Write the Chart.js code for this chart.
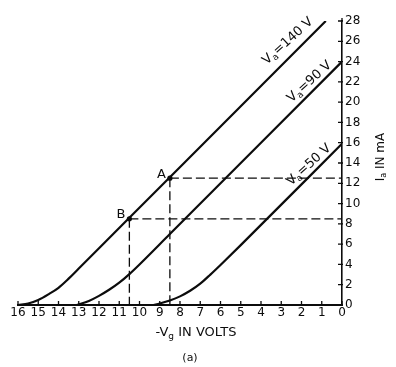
<!DOCTYPE html>
<html lang="en">
<head>
    <title>Triode mutual characteristics</title>
    <meta http-equiv="Content-Type" content="text/html; charset=utf-8" />
    <script src="https://cdn.jsdelivr.net/npm/chart.js@4.4.1/dist/chart.umd.min.js"></script>
    <style>
        html, body { margin: 0; padding: 0; background: #ffffff; }
        #chartCanvas { display: block; }
    </style>
    <script type="text/javascript">

        // -Vg (volts) and Ia (mA)
        const vg140 = [16, 15.5, 15, 14.5, 14, 13.5, 13, 12, 10.5, 8.5, 5, 0.8];
        const ia140 = [0, 0.15, 0.5, 1.05, 1.7, 2.6, 3.6, 5.6, 8.6, 12.6, 19.6, 28];

        const vg90 = [13.1, 12.5, 12, 11.5, 11, 10.5, 10, 8.5, 4, 0];
        const ia90 = [0, 0.4, 0.9, 1.5, 2.2, 3.05, 4, 7, 16, 24];

        const vg50 = [9.3, 9, 8.5, 8, 7.5, 7, 6.5, 6, 5, 0];
        const ia50 = [0, 0.15, 0.45, 0.85, 1.4, 2.1, 3.0, 3.95, 5.9, 15.9];

        // working points A and B
        const pointNames = ['A', 'B'];
        const pointVg = [8.5, 10.5];
        const pointIa = [12.5, 8.5];

        // axis ticks
        const xTicks = [16, 15, 14, 13, 12, 11, 10, 9, 8, 7, 6, 5, 4, 3, 2, 1, 0];
        const yTicks = [0, 2, 4, 6, 8, 10, 12, 14, 16, 18, 20, 22, 24, 26, 28];

        // curve names: Va value, and where the text sits (in data units)
        const curveVa = ['140', '90', '50'];
        const curveLabelVg = [2.67, 1.6, 1.63];
        const curveLabelIa = [26, 22, 13.8];

        const ink = '#0c0c0c';
        const fontFamily = '"DejaVu Sans", sans-serif';

        function zip(xs, ys) {
            return xs.map((x, i) => ({ x: x, y: ys[i] }));
        }

        function curveDataset(xs, ys) {
            return {
                data: zip(xs, ys),
                borderColor: ink,
                borderWidth: 2.2,
                pointRadius: 0,
                cubicInterpolationMode: 'monotone',
                fill: false
            };
        }

        function dashedDataset(points) {
            return {
                data: points,
                borderColor: ink,
                borderWidth: 1.3,
                borderDash: [9, 4],
                pointRadius: 0,
                fill: false
            };
        }

        /**
         * inward tick marks, text labels and subscripted titles
         */
        const decorPlugin = {
            id: 'decor',
            afterDraw(chart) {
                const ctx = chart.ctx;
                const xs = chart.scales.x;
                const ys = chart.scales.y;
                const area = chart.chartArea;
                ctx.save();
                ctx.strokeStyle = ink;
                ctx.fillStyle = ink;
                ctx.lineWidth = 1.3;

                // ticks pointing into the plot
                ctx.beginPath();
                xTicks.forEach(v => {
                    const px = xs.getPixelForValue(v);
                    ctx.moveTo(px, area.bottom);
                    ctx.lineTo(px, area.bottom - 4);
                });
                yTicks.forEach(v => {
                    const py = ys.getPixelForValue(v);
                    ctx.moveTo(area.right + 1, py);
                    ctx.lineTo(area.right - 4, py);
                });
                // axis runs a little past 28
                ctx.moveTo(area.right, area.top);
                ctx.lineTo(area.right, area.top - 3);
                ctx.stroke();

                // A and B
                ctx.font = '13px ' + fontFamily;
                ctx.textAlign = 'right';
                ctx.textBaseline = 'middle';
                pointNames.forEach((name, i) => {
                    const px = xs.getPixelForValue(pointVg[i]);
                    const py = ys.getPixelForValue(pointIa[i]);
                    ctx.fillText(name, px - 4, py - 4);
                });

                // curve names along the lines
                const ang = Math.atan2(ys.getPixelForValue(0) - ys.getPixelForValue(2),
                    xs.getPixelForValue(0) - xs.getPixelForValue(1));
                curveVa.forEach((va, i) => {
                    const px = xs.getPixelForValue(curveLabelVg[i]);
                    const py = ys.getPixelForValue(curveLabelIa[i]);
                    ctx.save();
                    ctx.translate(px, py);
                    ctx.rotate(-ang + 0.05);
                    drawSub(ctx, 'V', 'a', '=' + va + ' V', 13, 'center');
                    ctx.restore();
                });

                // x title
                ctx.save();
                ctx.translate(196, area.bottom + 28);
                drawSub(ctx, '-V', 'g', ' IN VOLTS', 13, 'center');
                ctx.restore();

                // y title
                ctx.save();
                ctx.translate(381, 157);
                ctx.rotate(-Math.PI / 2);
                drawSub(ctx, 'I', 'a', ' IN mA', 12, 'center');
                ctx.restore();

                ctx.font = '11px ' + fontFamily;
                ctx.textAlign = 'center';
                ctx.fillText('(a)', 190, area.bottom + 53);
                ctx.restore();
            }
        };

        // text with one subscript, drawn at the current origin
        function drawSub(ctx, head, sub, tail, size, align) {
            const big = size + 'px ' + fontFamily;
            const small = Math.round(size * 0.7) + 'px ' + fontFamily;
            ctx.font = big;
            const w1 = ctx.measureText(head).width;
            const w3 = ctx.measureText(tail).width;
            ctx.font = small;
            const w2 = ctx.measureText(sub).width;
            const total = w1 + w2 + w3;
            let x = align === 'center' ? -total / 2 : 0;
            ctx.textAlign = 'left';
            ctx.textBaseline = 'middle';
            ctx.font = big;
            ctx.fillText(head, x, 0);
            x += w1;
            ctx.font = small;
            ctx.fillText(sub, x, size * 0.28);
            x += w2;
            ctx.font = big;
            ctx.fillText(tail, x, 0);
        }

        function onInit() {
            const datasets = [
                curveDataset(vg140, ia140),
                curveDataset(vg90, ia90),
                curveDataset(vg50, ia50)
            ];
            pointNames.forEach((n, i) => {
                const vg = pointVg[i];
                const ia = pointIa[i];
                datasets.push(dashedDataset([{ x: vg, y: ia }, { x: vg, y: 0 }]));
                datasets.push(dashedDataset([{ x: vg, y: ia }, { x: 0, y: ia }]));
            });
            datasets.push({
                data: zip(pointVg, pointIa),
                showLine: false,
                pointRadius: 2.6,
                pointBackgroundColor: ink,
                pointBorderWidth: 0
            });

            const ctx = document.getElementById('chartCanvas').getContext('2d');
            new Chart(ctx, {
                type: 'line',
                data: { datasets: datasets },
                options: {
                    responsive: false,
                    animation: false,
                    devicePixelRatio: 1,
                    layout: { padding: { left: 18, top: 21, right: 0, bottom: 0 } },
                    plugins: {
                        legend: { display: false },
                        tooltip: { enabled: false }
                    },
                    scales: {
                        x: {
                            type: 'linear',
                            reverse: true,
                            min: 0,
                            max: 16,
                            afterFit: (s) => { s.height = 62; },
                            afterBuildTicks: (s) => { s.ticks = xTicks.map(v => ({ value: v })); },
                            ticks: {
                                color: ink,
                                padding: 1,
                                maxRotation: 0,
                                autoSkip: false,
                                font: { family: fontFamily, size: 12 }
                            },
                            grid: { drawOnChartArea: false, drawTicks: false },
                            border: { color: ink, width: 2 }
                        },
                        y: {
                            type: 'linear',
                            position: 'right',
                            min: 0,
                            max: 28,
                            afterFit: (s) => { s.width = 54; },
                            afterBuildTicks: (s) => { s.ticks = yTicks.map(v => ({ value: v })); },
                            ticks: {
                                color: ink,
                                padding: 3,
                                autoSkip: false,
                                font: { family: fontFamily, size: 12 }
                            },
                            grid: { drawOnChartArea: false, drawTicks: false },
                            border: { color: ink, width: 1.6 }
                        }
                    }
                },
                plugins: [decorPlugin]
            });
        }

        window.onload = onInit;
    </script>
</head>
<body>
    <canvas id="chartCanvas" width="396" height="367"></canvas>
</body>
</html>
